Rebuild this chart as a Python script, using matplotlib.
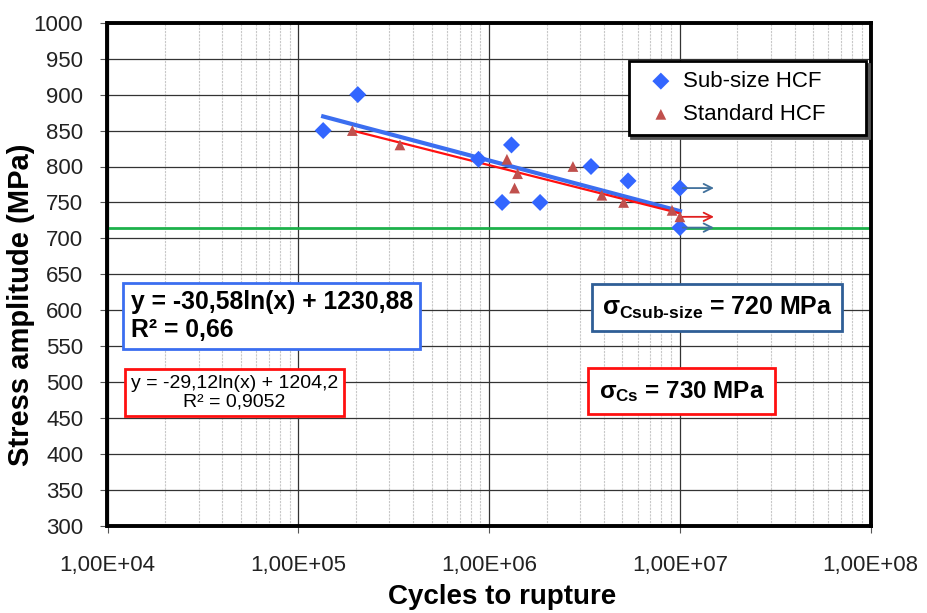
import numpy as np
import matplotlib
matplotlib.use("Agg")
import matplotlib.pyplot as plt
from matplotlib.ticker import FuncFormatter, LogLocator, NullFormatter

plt.rcParams['font.family'] = ['Liberation Sans', 'DejaVu Sans']
plt.rcParams['mathtext.fontset'] = 'custom'
plt.rcParams['mathtext.rm'] = 'Liberation Sans:bold'
plt.rcParams['mathtext.it'] = 'Liberation Sans:bold'
plt.rcParams['mathtext.bf'] = 'Liberation Sans:bold'

# Sub-size HCF specimens
sub_cycles = [1.35e5, 2.05e5, 8.8e5, 1.31e6, 1.17e6, 1.85e6, 3.42e6, 5.35e6, 1.0e7, 1.0e7]
sub_stress = [850, 900, 810, 830, 750, 750, 800, 780, 770, 715]

# Standard HCF specimens
std_cycles = [1.92e5, 3.41e5, 1.24e6, 1.41e6, 1.36e6, 2.75e6, 3.9e6, 5.07e6, 9.1e6, 1.0e7]
std_stress = [850, 830, 810, 790, 770, 800, 760, 750, 739, 730]

# trendline coefficients (y = a*ln(x) + b) as given on the chart
sub_fit = (-30.58, 1230.88)
std_fit = (-29.12, 1204.2)

# run-outs (arrows) and fatigue limit line
runout_sub = [770, 715]
runout_std = [730]
runout_start, runout_end = 1.0e7, 1.56e7
fatigue_limit = 715

fig = plt.figure(figsize=(9.28, 6.13), dpi=100)
ax = fig.add_axes([107.5 / 928, 1 - 526 / 613, (870.7 - 107.5) / 928, (526 - 22.7) / 613])

ax.set_xscale('log')
ax.set_xlim(1e4, 1e8)
ax.set_ylim(300, 1000)

# grid
ax.xaxis.set_minor_locator(LogLocator(base=10, subs=np.arange(2, 10)))
ax.xaxis.set_minor_formatter(NullFormatter())
ax.set_yticks(np.arange(300, 1001, 50))
ax.grid(True, which='major', color='#333333', linewidth=0.9)
ax.grid(True, which='minor', axis='x', color='#c8c8c8', linestyle=(0, (2, 1)), linewidth=0.8)
ax.set_axisbelow(True)
ax.tick_params(which='minor', length=0)
ax.tick_params(which='major', length=5, width=0.8, color='#555555', labelsize=16,
               labelcolor='#222222')
ax.tick_params(axis='y', pad=12.5)
ax.tick_params(axis='x', pad=16)
ax.set_xticks([1e4, 1e5, 1e6, 1e7, 1e8])
ax.xaxis.set_major_formatter(FuncFormatter(
    lambda v, p: ('%.2fE+%02d' % (1.0, int(round(np.log10(v))))).replace('.', ',')))
for s in ax.spines.values():
    s.set_linewidth(2.8)
    s.set_color('black')

# fatigue limit line
ax.axhline(fatigue_limit, color='#1DB14B', linewidth=2, zorder=2)

# trendlines
xs = np.logspace(np.log10(min(sub_cycles)), np.log10(max(sub_cycles)), 50)
ax.plot(xs, sub_fit[0] * np.log(xs) + sub_fit[1], color='#3B6EF0', linewidth=3, zorder=3)
xs = np.logspace(np.log10(min(std_cycles)), np.log10(max(std_cycles)), 50)
ax.plot(xs, std_fit[0] * np.log(xs) + std_fit[1], color='#FF1010', linewidth=1.6, zorder=4)

# data
ax.scatter(sub_cycles, sub_stress, marker='D', s=75, color='#3366FF', zorder=5,
           label='Sub-size HCF', edgecolors='none')
ax.scatter(std_cycles, std_stress, marker='^', s=60, color='#C0504D', zorder=6,
           label='Standard HCF     ', edgecolors='none')

# run-out arrows
for y in runout_sub:
    ax.annotate('', xy=(runout_end, y), xytext=(runout_start, y),
                arrowprops=dict(arrowstyle='->', color='#41719C', lw=1.3, mutation_scale=15), zorder=7)
for y in runout_std:
    ax.annotate('', xy=(runout_end, y), xytext=(runout_start, y),
                arrowprops=dict(arrowstyle='->', color='#E02020', lw=1.3, mutation_scale=15), zorder=7)

ax.set_xlabel('Cycles to rupture', fontsize=20, fontweight='bold')
ax.set_ylabel('Stress amplitude (MPa)', fontsize=21, fontweight='bold')
ax.xaxis.set_label_coords(0.5176, -0.115)
ax.yaxis.set_label_coords(-0.095, 0.439)

leg = ax.legend(loc='upper right', bbox_to_anchor=(0.9941, 0.924), borderaxespad=0,
                fontsize=16, frameon=True, fancybox=False, handletextpad=0.0, borderpad=0.45,
                labelspacing=0.55, handlelength=2.0, edgecolor='black', framealpha=1,
                shadow=dict(color='#555555', alpha=1))
leg.get_frame().set_linewidth(2)

# equation boxes
ax.text(0.215, 0.417, 'y = -30,58ln(x) + 1230,88\nR² = 0,66', transform=ax.transAxes,
        fontsize=17.8, fontweight='bold', ha='center', va='center', multialignment='left',
        linespacing=1.2, zorder=8,
        bbox=dict(boxstyle='square,pad=0.3', facecolor='white', edgecolor='#3B6EF0', linewidth=2))
ax.text(0.1664, 0.265, 'y = -29,12ln(x) + 1204,2\nR² = 0,9052', transform=ax.transAxes,
        fontsize=14, ha='center', va='center', multialignment='center', linespacing=1.1, zorder=8,
        bbox=dict(boxstyle='square,pad=0.3', facecolor='white', edgecolor='#FF1010', linewidth=2))

ax.text(0.7986, 0.434, r'$\sigma_{\rm Csub\text{-}size}$ = 720 MPa', transform=ax.transAxes,
        fontsize=18, fontweight='bold', ha='center', va='center', zorder=8,
        bbox=dict(boxstyle='square,pad=0.4', facecolor='white', edgecolor='#2F5E96', linewidth=2))
ax.text(0.752, 0.268, r'$\sigma_{\rm Cs}$ = 730 MPa', transform=ax.transAxes,
        fontsize=17.5, fontweight='bold', ha='center', va='center', zorder=8,
        bbox=dict(boxstyle='square,pad=0.42', facecolor='white', edgecolor='#FF1010', linewidth=2))

fig.savefig('out.png', dpi=100)
